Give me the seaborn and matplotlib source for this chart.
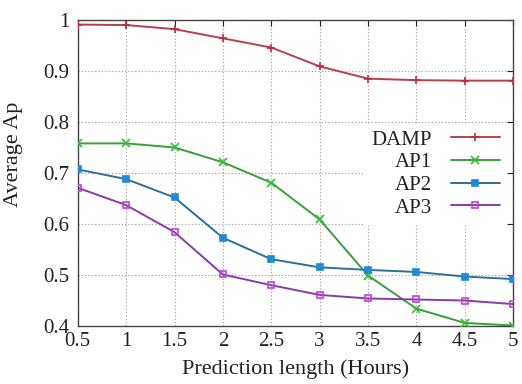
import numpy as np
import pandas as pd
import matplotlib
matplotlib.use("Agg")
import matplotlib.pyplot as plt
import seaborn as sns

hours = [0.5, 1, 1.5, 2, 2.5, 3, 3.5, 4, 4.5, 5]
damp = [0.991, 0.990, 0.982, 0.964, 0.946, 0.909, 0.885, 0.882, 0.881, 0.881]
ap1 = [0.758, 0.758, 0.750, 0.721, 0.681, 0.609, 0.499, 0.434, 0.406, 0.401]
ap2 = [0.707, 0.688, 0.652, 0.573, 0.531, 0.515, 0.510, 0.506, 0.497, 0.492]
ap3 = [0.671, 0.637, 0.584, 0.501, 0.480, 0.461, 0.454, 0.452, 0.450, 0.443]
series_names = ["DAMP", "AP1", "AP2", "AP3"]
xticks = [0.5, 1, 1.5, 2, 2.5, 3, 3.5, 4, 4.5, 5]
yticks = [0.4, 0.5, 0.6, 0.7, 0.8, 0.9, 1.0]
ytick_labels = ["0.4", "0.5", "0.6", "0.7", "0.8", "0.9", "1"]

df = pd.DataFrame({
    "x": hours * 4,
    "y": damp + ap1 + ap2 + ap3,
    "series": sum([[n] * len(hours) for n in series_names], []),
})

sns.set_theme(style="white")
plt.rcParams["font.family"] = ["Liberation Serif", "DejaVu Serif"]

line_colors = {"DAMP": "#b8404a", "AP1": "#3a9e3a", "AP2": "#2f6f98", "AP3": "#8a3aa8"}
marker_colors = {"DAMP": "#c02a3a", "AP1": "#30c030", "AP2": "#1f8ad8", "AP3": "#c040d8"}
markers = {"DAMP": "+", "AP1": "x", "AP2": "s", "AP3": "s"}

fig = plt.figure(figsize=(5.22, 3.84), dpi=100)
ax = fig.add_axes([0.149, 0.151, 0.834, 0.797])

sns.lineplot(data=df, x="x", y="y", hue="series", palette=line_colors,
             legend=False, ax=ax, linewidth=1.4)

handles = []
for name in series_names:
    sub = df[df.series == name]
    face = marker_colors[name] if name != "AP3" else "none"
    ms = 5.5 if markers[name] in "+x" else 4
    ax.plot(sub.x, sub.y, linestyle="none", marker=markers[name], ms=ms,
            mec=marker_colors[name], mfc=face, mew=1.2, zorder=5)
    h, = ax.plot([], [], color=line_colors[name], lw=1.4, marker=markers[name], ms=ms,
                 mec=marker_colors[name], mfc=face, mew=1.2)
    handles.append(h)

ax.set_xlim(0.5, 5)
ax.set_ylim(0.4, 1.0)
ax.set_xticks(xticks)
ax.set_xticklabels([f"{t:g}" for t in xticks])
ax.set_yticks(yticks)
ax.set_yticklabels(ytick_labels)
ax.tick_params(direction="in", top=True, right=True, length=4, width=0.8,
               labelsize=15, colors="#222222")
ax.tick_params(axis="x", pad=4)
ax.tick_params(axis="y", pad=6)
ax.grid(True, linestyle=(0, (1, 2)), color="#999999", linewidth=0.8)
for s in ax.spines.values():
    s.set_color("#444444")
    s.set_linewidth(1.0)

ax.set_xlabel("Prediction length (Hours)", fontsize=16, labelpad=6, color="#222222")
ax.set_ylabel("Average Ap", fontsize=16, color="#222222")
ax.yaxis.set_label_coords(-0.125, 0.56)

leg = ax.legend(handles, series_names, loc="upper right", bbox_to_anchor=(1.008, 0.695),
                frameon=True, markerfirst=False, fontsize=15, handlelength=2.35,
                labelspacing=0.15, borderpad=0.3, handletextpad=0.9)
leg.get_frame().set_facecolor("white")
leg.get_frame().set_edgecolor("white")
leg.get_frame().set_alpha(1)
leg.get_frame().set_boxstyle("square", pad=0)
for t in leg.get_texts():
    t.set_ha("right")
    t.set_color("#222222")
leg._legend_box.align = "right"

fig.savefig("out.png", dpi=100)
